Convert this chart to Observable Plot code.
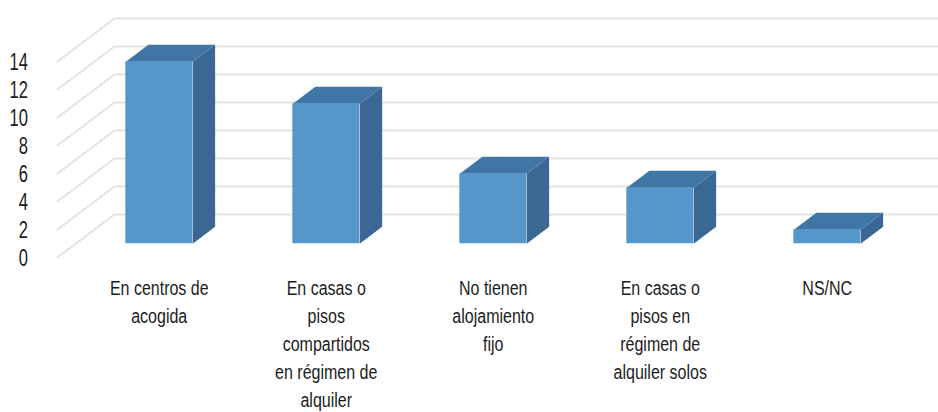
<!DOCTYPE html>
<html>
<head>
<meta charset="utf-8">
<script src="https://cdn.jsdelivr.net/npm/d3@7"></script>
<script src="https://cdn.jsdelivr.net/npm/@observablehq/plot@0.6"></script>
<style>
html,body{margin:0;padding:0;background:#fff;}
svg{display:block;}
</style>
</head>
<body>
<div id="chart"></div>
<script>
const categories = [
  "En centros de\nacogida",
  "En casas o\npisos\ncompartidos\nen régimen de\nalquiler",
  "No tienen\nalojamiento\nfijo",
  "En casas o\npisos en\nrégimen de\nalquiler solos",
  "NS/NC"
];
const values = [13, 10, 5, 4, 1];
const yTicks = [0, 2, 4, 6, 8, 10, 12, 14];

const FONT = "'Liberation Sans',sans-serif";

// Oblique projection of the 3D chart box: depth d (0 front, 1 back)
const DX = 57 / 167, DY = 43 / 14;
const px = (x, d) => x + d * DX;
const py = (v, d) => v + d * DY;
const barL = 0.3, barR = 0.7, d0 = 0.32, d1 = 0.715;
const n = categories.length;

const idx = categories.map((_, i) => i);
const gridRows = yTicks.flatMap(t => [
  {t, x: px(0, 0), y: py(t, 0)},
  {t, x: px(0, 1), y: py(t, 1)},
  {t, x: px(n, 1), y: py(t, 1)}
]);
const face = (corners) => idx.flatMap(i => corners.map(([a, v, d]) => ({
  i,
  x: px(i + a, d),
  y: py(v(i), d)
})));
const barTop = i => values[i], barBase = () => 0;
const sideRows = face([[barR, barBase, d0], [barR, barBase, d1], [barR, barTop, d1], [barR, barTop, d0]]);
const topRows = face([[barL, barTop, d0], [barL, barTop, d1], [barR, barTop, d1], [barR, barTop, d0]]);

// Condense glyphs horizontally (the original face is a narrow one)
const condensed = (k) => (index, scales, values, dims, ctx, next) => {
  const g = next(index, scales, values, dims, ctx);
  d3.select(g).selectAll("text").attr("transform", function () {
    return (this.getAttribute("transform") || "") + ` scale(${k},1)`;
  });
  return g;
};

const chart = Plot.plot({
  width: 938,
  height: 412,
  marginTop: 0, marginRight: 0, marginBottom: 0, marginLeft: 0,
  style: {background: "#fff", fontFamily: FONT},
  x: {domain: [0, n], range: [57, 892], axis: null},
  y: {domain: [0, 14], range: [257, 61], axis: null},
  marks: [
    Plot.line(gridRows, {x: "x", y: "y", z: "t", stroke: "#e3e3e3", strokeWidth: 2}),
    Plot.line(sideRows, {x: "x", y: "y", z: "i", fill: "#3b6794", stroke: "none"}),
    Plot.line(topRows, {x: "x", y: "y", z: "i", fill: "#3f76a6", stroke: "none"}),
    Plot.rect(idx, {
      x1: i => px(i + barL, d0), x2: i => px(i + barR, d0),
      y1: () => py(0, d0), y2: i => py(values[i], d0),
      fill: "#5596cb"
    }),
    Plot.text(yTicks, {
      x: () => -0.177, y: d => d, text: d => String(d),
      textAnchor: "end", fontSize: 23, fill: "#1c1c1c", dy: 1,
      render: condensed(0.72)
    }),
    Plot.text(idx, {
      x: i => px(i + 0.5, d0), y: () => -1.26,
      text: i => categories[i],
      lineAnchor: "top", lineHeight: 1.4, fontSize: 20, fill: "#1c1c1c",
      render: condensed(0.8)
    })
  ]
});
document.getElementById("chart").appendChild(chart);
</script>
</body>
</html>
